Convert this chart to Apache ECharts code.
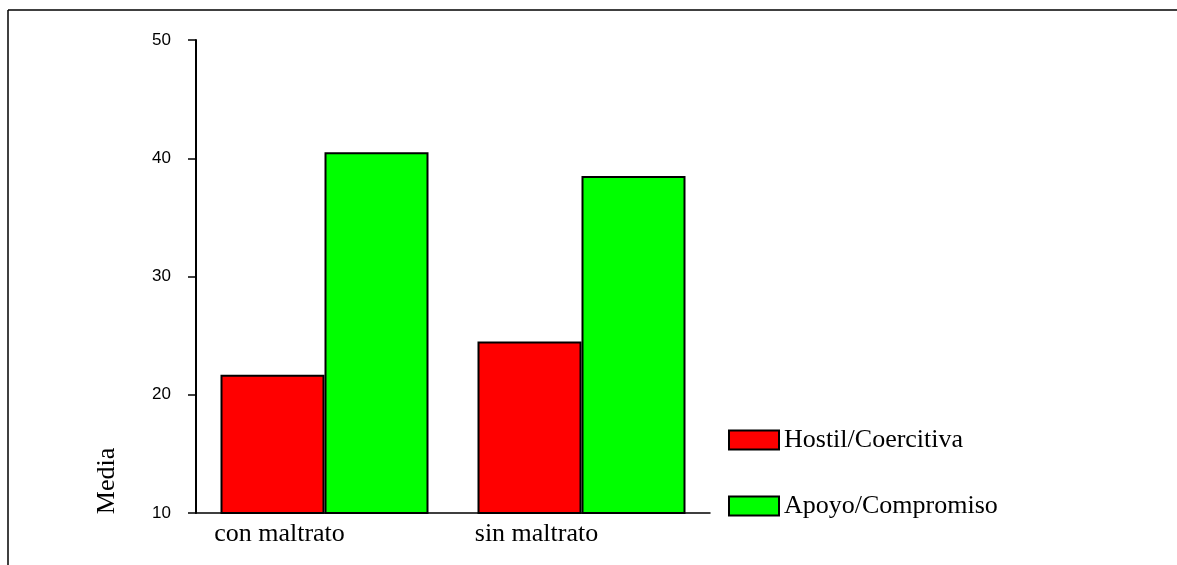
<!DOCTYPE html>
<html>
<head>
<meta charset="utf-8">
<script src="https://cdn.jsdelivr.net/npm/echarts@6/dist/echarts.min.js"></script>
<style>
html,body{margin:0;padding:0;background:#fff;}
#c{width:1177px;height:565px;}
</style>
</head>
<body>
<div id="c"></div>
<script>
const categories = ['con maltrato', 'sin maltrato'];
const hostil = [21.7, 24.5];
const apoyo = [40.5, 38.5];
const seriesNames = ['Hostil/Coercitiva', 'Apoyo/Compromiso'];
const yTicks = [10, 20, 30, 40, 50];

const chart = echarts.init(document.getElementById('c'));
const serif = '"Liberation Serif", "Times New Roman", serif';
const sans = '"Liberation Sans", Arial, sans-serif';

chart.setOption({
  animation: false,
  backgroundColor: '#fff',
  grid: { left: 196, right: 467, top: 40, bottom: 52, containLabel: false },
  legend: {
    orient: 'vertical',
    left: 723, top: 422,
    itemWidth: 50, itemHeight: 19, itemGap: 40,
    icon: 'rect',
    data: seriesNames,
    textStyle: { fontFamily: serif, fontSize: 26, color: '#000', lineHeight: 25 }
  },
  xAxis: {
    type: 'category',
    data: categories,
    axisLine: { lineStyle: { color: '#000', width: 1.5 } },
    axisTick: { alignWithLabel: true, length: 5, lineStyle: { color: '#000', width: 1.5 } },
    axisLabel: {
      fontFamily: serif, fontSize: 26, color: '#000', margin: 8,
      padding: [0, 90, 0, 0]
    }
  },
  yAxis: {
    type: 'value',
    min: yTicks[0], max: yTicks[yTicks.length - 1], interval: 10,
    splitLine: { show: false },
    axisLine: { show: true, lineStyle: { color: '#000', width: 2 } },
    axisTick: { show: true, length: 8, lineStyle: { color: '#000', width: 1.5 } },
    axisLabel: { fontFamily: sans, fontSize: 17, color: '#000', margin: 25 }
  },
  graphic: [
    { type: 'line', shape: { x1: 8, y1: 10, x2: 1177, y2: 10 }, style: { stroke: '#000', lineWidth: 1.5 } },
    { type: 'line', shape: { x1: 8, y1: 10, x2: 8, y2: 565 }, style: { stroke: '#000', lineWidth: 1.5 } },
    { type: 'text', x: 107, y: 481, rotation: Math.PI / 2,
      style: { text: 'Media', font: '26px ' + serif, fill: '#000', textAlign: 'center', textVerticalAlign: 'middle' } }
  ],
  series: [
    { name: seriesNames[0], type: 'bar', data: hostil, barWidth: 104, barGap: '0%',
      itemStyle: { color: '#ff0000', borderColor: '#000', borderWidth: 2 } },
    { name: seriesNames[1], type: 'bar', data: apoyo, barWidth: 104, barGap: '0%',
      itemStyle: { color: '#00ff00', borderColor: '#000', borderWidth: 2 } }
  ]
});
</script>
</body>
</html>
